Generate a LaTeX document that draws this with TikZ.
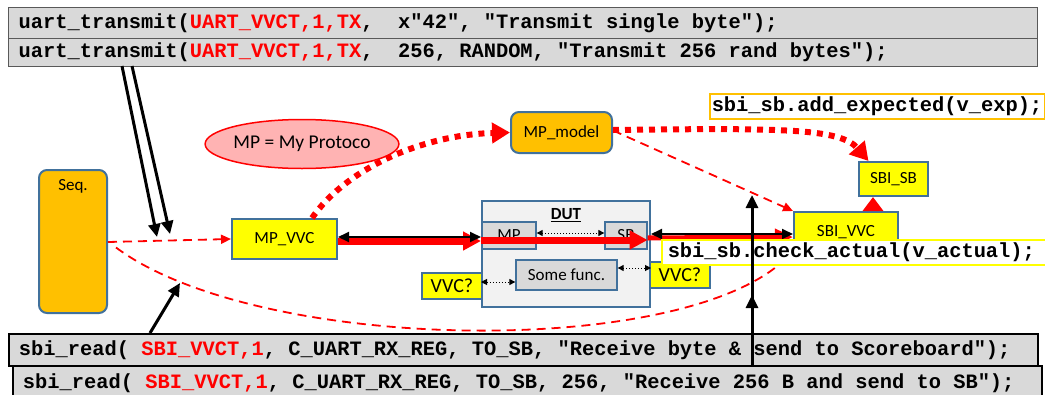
\documentclass[tikz,border=0pt]{standalone}
\usepackage{fontspec}
\setmainfont{Carlito}
\newfontfamily\cmono{Liberation Mono}
\usetikzlibrary{arrows.meta,shapes.geometric}
\definecolor{cgrey}{RGB}{217,217,217}
\definecolor{bord}{RGB}{65,113,156}
\definecolor{orng}{RGB}{255,192,0}
\definecolor{yel}{RGB}{255,255,0}
\definecolor{pinkfill}{RGB}{255,179,179}
\definecolor{lgrey}{RGB}{242,242,242}
\definecolor{dgrey}{RGB}{89,89,89}
\begin{document}
\begin{tikzpicture}[x=1pt,y=-1pt,
  lbl/.style={font=\fontsize{17}{20}\selectfont},
  codefont/.style={font=\cmono\bfseries\fontsize{20.4}{24}\selectfont,
    execute at begin node={\spaceskip=12.24pt\relax\xspaceskip=12.24pt\relax}},
  topcode/.style={codefont, draw=dgrey, fill=cgrey, line width=1.2pt, inner xsep=10pt, inner ysep=0pt, text width=1009pt, anchor=north west},
  botcode/.style={codefont, draw=black, fill=cgrey, line width=2pt, inner xsep=10pt, inner ysep=0pt, text width=1009pt, anchor=north west},
  orangebox/.style={draw=bord, fill=orng, line width=2pt, rounded corners=8pt, inner sep=0pt, lbl},
  yelbox/.style={draw=bord, fill=yel, line width=2pt, inner sep=0pt, lbl},
  greybox/.style={draw=bord, fill=cgrey, line width=1.3pt, inner sep=0pt, lbl},
  reddash/.style={red, line width=1.8pt, dash pattern=on 9pt off 6pt, -{Triangle[length=10pt,width=9pt]}},
  reddot/.style={red, line width=6pt, dash pattern=on 6pt off 6pt, -{Triangle[length=18pt,width=20pt]}},
  redthick/.style={red, line width=7pt, -{Triangle[length=18pt,width=18pt]}},
  blkarrow/.style={black, line width=3pt, -{Triangle[length=13pt,width=12pt]}},
  blkdouble/.style={black, line width=2pt, {Triangle[length=11pt,width=10pt]}-{Triangle[length=11pt,width=10pt]}},
  smalldot/.style={black, line width=1pt, dotted, {Triangle[length=6pt,width=6pt]}-{Triangle[length=6pt,width=6pt]}}
]
\useasboundingbox (0,0) rectangle (1045,394);
\fill[white] (0,0) rectangle (1045,394);

% code boxes top
\node[topcode, minimum height=31pt] (t1) at (8,7) {uart\_transmit(\textcolor{red}{UART\_VVCT,1,TX},~~x"42", "Transmit single byte");};
\node[topcode, minimum height=28pt] (t2) at (8,38) {uart\_transmit(\textcolor{red}{UART\_VVCT,1,TX},~~256, RANDOM, "Transmit 256 rand bytes");};

% code boxes bottom
\node[botcode, minimum height=32pt] (b1) at (8,333) {sbi\_read( \textcolor{red}{SBI\_VVCT,1}, C\_UART\_RX\_REG, TO\_SB, "Receive byte \& send to Scoreboard");};
\node[botcode, minimum height=34pt] (b2) at (12,365) {sbi\_read( \textcolor{red}{SBI\_VVCT,1}, C\_UART\_RX\_REG, TO\_SB, 256, "Receive 256 B and send to SB");};

% red dashed curve from Seq to SBI_VVC (drawn under nodes)
\coordinate (curveend) at (792,252);
\node[orangebox, minimum width=68pt, minimum height=143pt, label={[lbl,anchor=north,yshift=-7pt]north:Seq.}] (seq) at (73,241.5) {};
\draw[red, line width=1.8pt, dash pattern=on 9pt off 6pt] ([xshift=8pt,yshift=-6pt]seq.east) .. controls (260,355) and (700,360) .. (curveend);

% nodes
\node[ellipse, draw=red, fill=pinkfill, line width=1.5pt, minimum width=141pt, minimum height=49pt, inner sep=0pt, font=\fontsize{19.5}{22}\selectfont] (mp) at (302,144) {MP = My Protoco};
\node[orangebox, minimum width=101pt, minimum height=41pt] (model) at (561.5,132.5) {MP\_model};
\node[yelbox, minimum width=105pt, minimum height=40pt] (mpvvc) at (284.5,239) {MP\_VVC};
\node[draw=bord, fill=lgrey, line width=2pt, minimum width=168pt, minimum height=106pt, inner sep=0pt,
      label={[lbl,anchor=north,yshift=-5pt]north:\textbf{\underline{DUT}}}] (dut) at (566,254) {};
\node[greybox, minimum width=54pt, minimum height=27pt] (dmp) at (509,235.5) {MP};
\node[greybox, minimum width=42pt, minimum height=27pt] (dsb) at (626,235.5) {SB};
\node[greybox, minimum width=101pt, minimum height=30pt] (func) at (566.5,275) {Some func.};
\node[yelbox, minimum width=60pt, minimum height=26pt, font=\fontsize{20}{22}\selectfont] (vvcl) at (452,286) {VVC?};
\node[yelbox, minimum width=60pt, minimum height=26pt, font=\fontsize{20}{22}\selectfont] (vvcr) at (680,275) {VVC?};
\node[yelbox, minimum width=69pt, minimum height=34pt] (sbisb) at (893.5,179) {SBI\_SB};
\node[yelbox, minimum width=104pt, minimum height=40pt] (sbivvc) at (846,232) {SBI\_VVC};
\node[codefont, draw=orng, fill=white, line width=1.5pt, minimum height=25pt, inner xsep=2pt, inner ysep=0pt, anchor=west] (addexp) at (709,106.5) {sbi\_sb.add\_expected(v\_exp);};

% dashed red connectors
\draw[reddash] ([yshift=-0.5pt]seq.east) -- (mpvvc.west);
\draw[reddash] ([yshift=2pt]model.east) -- (sbivvc.north west);

% small dotted arrows inside DUT
\draw[smalldot] ([yshift=2.5pt]dmp.east) -- ([yshift=2.5pt]dsb.west);
\draw[smalldot] ([yshift=7pt]func.east) -- ([yshift=7pt]func.east -| dut.east);
\draw[smalldot] ([yshift=-7pt]func.west -| dut.west) -- ([yshift=-7pt]func.west);

% red thick arrows, black double arrows on top
\draw[redthick] ([yshift=-2pt]mpvvc.east) -- ([yshift=-2pt]mpvvc.east -| dut.west);
\draw[redthick] ([yshift=-4.5pt]dmp.west) -- ([yshift=-4.5pt]dsb.east);
\draw[red, line width=5pt, -{Triangle[length=18pt,width=16pt]}] ([yshift=-2.5pt]dsb.east) -- ([yshift=-5pt]sbivvc.west);
\draw[blkdouble] ([yshift=2pt]mpvvc.east) -- ([yshift=2pt]mpvvc.east -| dut.west);
\draw[blkdouble] ([yshift=-2pt]sbivvc.west -| dut.east) -- ([yshift=-2pt]sbivvc.west);
\draw[red, line width=7pt, -{Triangle[length=14pt,width=20pt]}] ([xshift=27pt]sbivvc.north) -- ([xshift=27pt]sbivvc.north |- sbisb.south);

% red dotted curves
\draw[reddot] ([xshift=27.5pt]mpvvc.north) .. controls (345,170) and (420,135) .. (model.west);
\draw[reddot] ([yshift=2.5pt]model.east) .. controls (780,128) and (840,128) .. ([xshift=-25pt]sbisb.north);

% check_actual box on top
\node[codefont, draw=yel, fill=white, line width=1.5pt, minimum height=25pt, inner xsep=6pt, inner ysep=0pt, text width=390pt, anchor=west] (check) at (661,252.5) {sbi\_sb.check\_actual(v\_actual);};

% black arrows
\coordinate (p1s) at (122,66);
\coordinate (p1e) at (157,237);
\coordinate (p2s) at (132,66);
\coordinate (p2e) at (170,234);
\draw[blkarrow] (p1s) -- (p1e);
\draw[blkarrow] (p2s) -- (p2e);
\coordinate (b1s) at (150,333);
\coordinate (b1e) at (180,283);
\draw[blkarrow] (b1s) -- (b1e);
\coordinate (vs) at (752,365);
\coordinate (ve1) at (752,195);
\coordinate (ve2) at (752,295);
\draw[blkarrow] (vs) -- (ve1);
\draw[blkarrow] (vs) -- (ve2);
\end{tikzpicture}
\end{document}
